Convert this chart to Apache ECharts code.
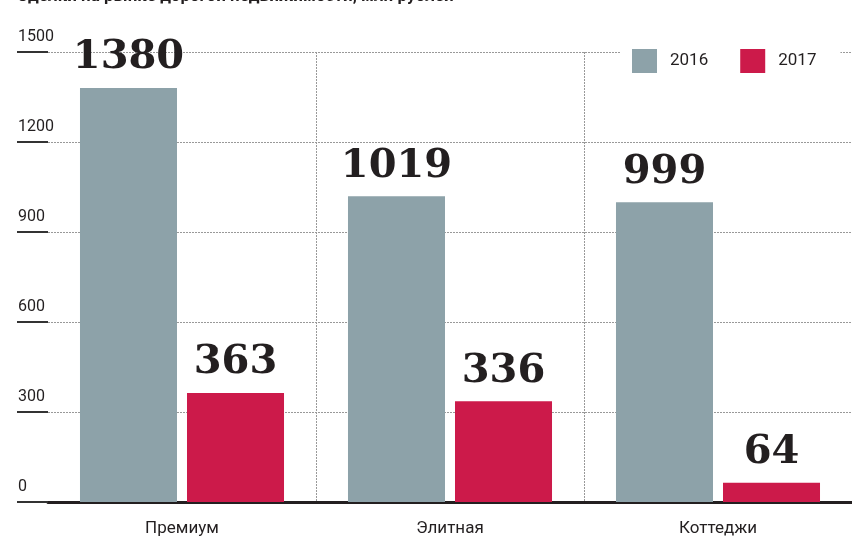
<!DOCTYPE html>
<html>
<head>
<meta charset="utf-8">
<script src="https://cdn.jsdelivr.net/npm/echarts@6/dist/echarts.min.js"></script>
<style>
html, body { margin: 0; padding: 0; background: #fff; }
#chart { width: 852px; height: 543px; }
</style>
</head>
<body>
<div id="chart"></div>
<script>
const categories = ['Премиум', 'Элитная', 'Коттеджи']
const values2016 = [1380, 1019, 999]
const values2017 = [363, 336, 64]
const seriesNames = ['2016', '2017']
const yTicks = [0, 300, 600, 900, 1200, 1500]

const narrow = 'Roboto, "Liberation Sans Narrow", sans-serif'
const ink = '#231f20'

const chart = echarts.init(document.getElementById('chart'))

const valueLabel = {
    show: true,
    position: 'top',
    distance: 10,
    fontFamily: '"DejaVu Serif", serif',
    fontWeight: 'bold',
    fontSize: 40,
    color: ink
}

chart.setOption({
    animation: false,
    title: {
        text: 'Сделки на рынке дорогой недвижимости, млн рублей',
        left: 12,
        top: -17,
        textStyle: {
            fontFamily: 'Roboto, sans-serif',
            fontWeight: 'bold',
            fontSize: 17,
            color: ink
        }
    },
    legend: {
        data: seriesNames,
        left: 620,
        top: 45,
        padding: [4, 24, 4, 12],
        backgroundColor: '#fff',
        itemWidth: 25,
        itemHeight: 24,
        itemGap: 32,
        icon: 'rect',
        textStyle: {
            fontFamily: narrow,
            fontSize: 17,
            color: ink,
            padding: [3, 0, 0, 8]
        }
    },
    grid: {
        left: 48,
        right: 0,
        top: 52,
        bottom: 41,
        containLabel: false
    },
    xAxis: {
        type: 'category',
        data: categories,
        axisLine: { lineStyle: { color: ink, width: 3 } },
        axisTick: {
            length: 25,
            interval: function (i) { return i > 0 },
            lineStyle: { color: '#444', width: 1 }
        },
        axisLabel: {
            fontFamily: narrow,
            fontSize: 17,
            color: ink,
            margin: 18
        },
        splitLine: {
            show: true,
            showMinLine: false,
            lineStyle: { color: '#999', type: [2, 1], width: 1 }
        }
    },
    yAxis: {
        type: 'value',
        min: yTicks[0],
        max: yTicks[yTicks.length - 1],
        interval: 300,
        axisLine: { show: false },
        axisTick: {
            show: true,
            length: 31,
            lineStyle: { color: '#333', width: 2 }
        },
        axisLabel: {
            fontFamily: narrow,
            fontSize: 16,
            color: ink,
            align: 'left',
            verticalAlign: 'bottom',
            margin: 30,
            padding: [0, 0, 7, 0],
            formatter: function (v) { return String(v) }
        },
        splitLine: {
            lineStyle: { color: '#999', type: [2, 1], width: 1 }
        }
    },
    series: [
        {
            name: seriesNames[0],
            type: 'bar',
            data: values2016,
            barWidth: '36.2%',
            barGap: '10.3%',
            itemStyle: { color: '#8da2a9' },
            label: valueLabel
        },
        {
            name: seriesNames[1],
            type: 'bar',
            data: values2017,
            barWidth: '36.2%',
            itemStyle: { color: '#cc1a4a' },
            label: valueLabel
        }
    ]
})
</script>
</body>
</html>
